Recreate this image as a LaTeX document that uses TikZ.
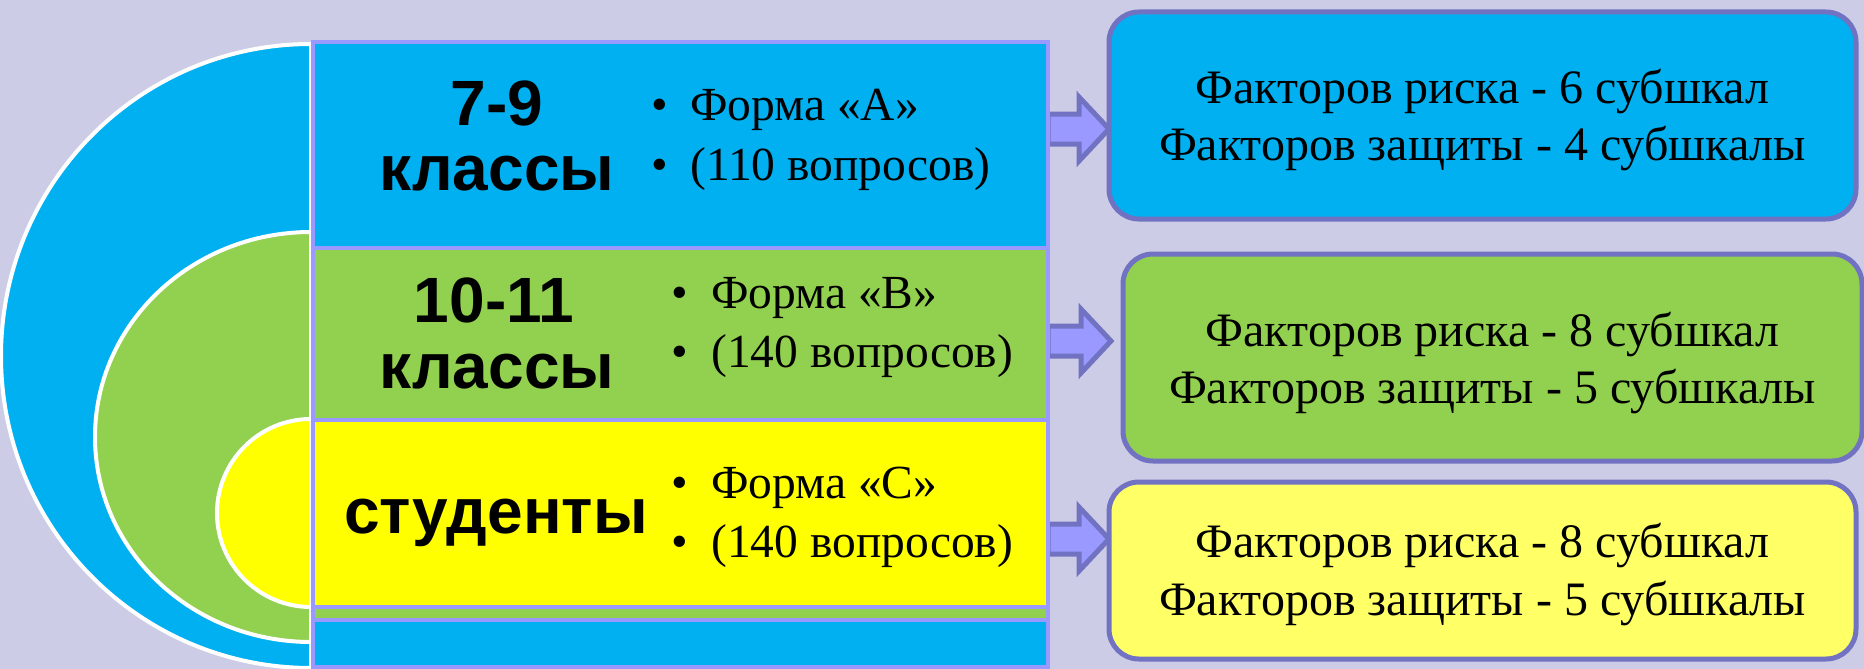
\documentclass[tikz,border=0pt]{standalone}
\usepackage{fontspec}
\setmainfont{Liberation Serif}
\newfontfamily\headfont{Liberation Sans}
\usetikzlibrary{calc}
\definecolor{bg}{RGB}{204,204,230}
\definecolor{cblue}{RGB}{0,176,240}
\definecolor{cgreen}{RGB}{146,208,80}
\definecolor{cyellow}{RGB}{255,255,0}
\definecolor{lyellow}{RGB}{255,255,102}
\definecolor{lav}{RGB}{153,153,255}
\definecolor{dlav}{RGB}{114,114,194}
\pgfdeclarelayer{bgl}
\pgfdeclarelayer{back}
\pgfsetlayers{bgl,back,main}
\newcommand\blockarr[2]{%
  \draw[barrow] ($(#1)+(0,-15)$) -- ($(#2)+(-30,-15)$) -- ($(#2)+(-30,-32)$) -- (#2)
    -- ($(#2)+(-30,32)$) -- ($(#2)+(-30,15)$) -- ($(#1)+(0,15)$) -- cycle;}
\begin{document}
\begin{tikzpicture}[x=1pt,y=-1pt,
  half/.style={draw=white,line width=4pt},
  row/.style={draw=lav,line width=4pt,outer sep=0pt,inner sep=0pt,anchor=north west},
  head/.style={font=\headfont\bfseries\fontsize{64}{64}\selectfont,anchor=base,inner sep=0pt},
  item/.style={font=\fontsize{47.5}{47.5}\selectfont,anchor=base west,inner sep=0pt},
  dot/.style={font=\fontsize{47.5}{47.5}\selectfont,anchor=base,inner sep=0pt},
  res/.style={draw=dlav,line width=5pt,rounded corners=30pt,outer sep=0pt,inner sep=0pt,anchor=north west},
  restext/.style={font=\fontsize{48}{48}\selectfont,anchor=base,inner sep=0pt},
  barrow/.style={draw=dlav,fill=lav,line width=5pt,line join=miter}]
\useasboundingbox (0,0) rectangle (1864,669);
\begin{pgfonlayer}{bgl}
\fill[bg] (0,0) rectangle (1864,669);
\end{pgfonlayer}
% half discs
\draw[half,fill=cblue] (311,44) arc[start angle=90,end angle=270,x radius=310pt,y radius=312pt] -- cycle;
\draw[half,fill=cgreen] (311,232) arc[start angle=90,end angle=270,x radius=216pt,y radius=205pt] -- cycle;
\draw[half,fill=cyellow] (311,419) arc[start angle=90,end angle=270,x radius=94pt,y radius=94pt] -- cycle;
% nested rows
\node[row,fill=cblue,minimum width=735pt,minimum height=625pt] (rA) at (313,42) {};
\node[row,fill=cgreen,minimum width=735pt,minimum height=372pt] (rB) at (313,248) {};
\node[row,fill=cyellow,minimum width=735pt,minimum height=187pt] (rC) at (313,420) {};
% result boxes
\node[res,fill=cblue,minimum width=747pt,minimum height=207pt] (bA) at (1109,12) {};
\node[res,fill=cgreen,minimum width=739pt,minimum height=207pt] (bB) at (1123,254) {};
\node[res,fill=lyellow,minimum width=747pt,minimum height=177pt] (bC) at (1109,482) {};
% arrows
\coordinate (a1) at (rA.east |- 0,129);
\coordinate (a2) at (rA.east |- 0,341);
\coordinate (a3) at (rA.east |- 0,539);
\coordinate (t1) at (bA.west |- a1);
\coordinate (t2) at ($(bB.west |- a2)+(-12,0)$);
\coordinate (t3) at (bC.west |- a3);
\begin{pgfonlayer}{back}
\blockarr{a1}{t1}
\blockarr{a2}{t2}
\blockarr{a3}{t3}
\end{pgfonlayer}
% left headings
\node[head] (hA1) at (497,125) {7-9};
\node[head] (hA2) at (497,190) {классы};
\node[head] (hB1) at (494,322) {10-11};
\node[head] (hB2) at (497,388) {классы};
\node[head] (hC1) at (496,533) {студенты};
% bullets
\node[dot] (dA1) at (660,120) {•};
\node[dot] (dA2) at (660,180) {•};
\node[item] (iA1) at (690,120) {Форма «А»};
\node[item] (iA2) at (690,180) {(110 вопросов)};
\node[dot] (dB1) at (680,308) {•};
\node[dot] (dB2) at (680,367) {•};
\node[item] (iB1) at (711,308) {Форма «В»};
\node[item] (iB2) at (711,367) {(140 вопросов)};
\node[dot] (dC1) at (680,498) {•};
\node[dot] (dC2) at (680,557) {•};
\node[item] (iC1) at (711,498) {Форма «С»};
\node[item] (iC2) at (711,557) {(140 вопросов)};
% box texts
\node[restext] (tA1) at ($(bA.center)+(0,-12.5)$) {Факторов риска - 6 субшкал};
\node[restext] (tA2) at ($(bA.center)+(0,44.5)$) {Факторов защиты - 4 субшкалы};
\node[restext] (tB1) at ($(bB.center)+(0,-11.5)$) {Факторов риска - 8 субшкал};
\node[restext] (tB2) at ($(bB.center)+(0,45.5)$) {Факторов защиты - 5 субшкалы};
\node[restext] (tC1) at ($(bC.center)+(0,-13.5)$) {Факторов риска - 8 субшкал};
\node[restext] (tC2) at ($(bC.center)+(0,44.5)$) {Факторов защиты - 5 субшкалы};
\end{tikzpicture}
\end{document}
